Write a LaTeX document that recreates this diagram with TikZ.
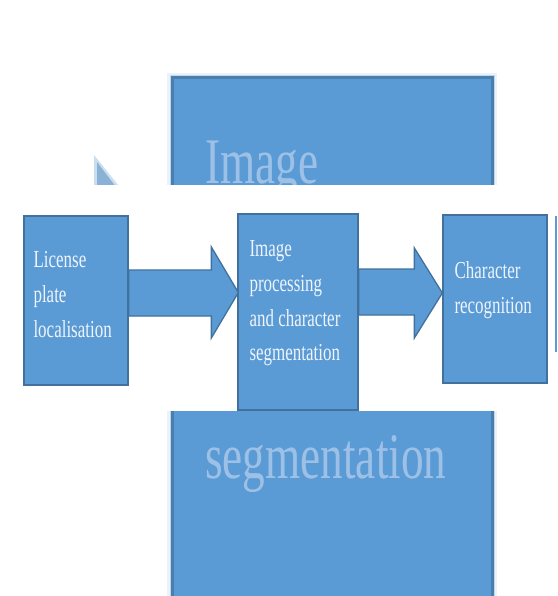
\documentclass[tikz,border=0pt]{standalone}
\usepackage{fontspec}
\setmainfont{Liberation Serif}
\usetikzlibrary{calc}
\definecolor{boxblue}{HTML}{5B9BD5}
\definecolor{boxedge}{HTML}{41719C}
\definecolor{txtlight}{HTML}{EEF4FB}
\definecolor{bgtxt}{HTML}{A9C8EA}
\tikzset{
  blockbox/.style={draw=boxedge, fill=boxblue, line width=1.3pt, inner sep=0pt},
  blockarrow/.style={draw=boxedge, fill=boxblue, line width=1.3pt, line join=miter},
  lbl/.style={text=txtlight, align=left, inner sep=0pt, anchor=north west,
    font=\fontsize{19.5}{27.8}\selectfont, xscale=0.87, yscale=1.25, transform shape},
  bglbl/.style={text=bgtxt, inner sep=0pt, anchor=base west, opacity=0.85,
    font=\fontsize{52}{60}\selectfont, xscale=0.87, yscale=1.25, transform shape},
}
\begin{document}
\begin{tikzpicture}[x=1pt, y=-1pt]
\useasboundingbox (0,0) rectangle (557,596);
\fill[white] (0,0) rectangle (557,596);
% blurred enlarged background
\fill[boxblue!80!boxedge, opacity=0.3] (94,155) -- (166,245) -- (94,400) -- cycle;
\fill[boxblue!70!boxedge, opacity=0.55] (97,162) -- (160,245) -- (97,400) -- cycle;
\draw[boxblue, line width=10pt, opacity=0.12] (172,78) rectangle (492,598);
\draw[boxblue, line width=5pt, opacity=0.3] (172,78) rectangle (492,598);
\node[draw=boxedge!70!boxblue, fill=boxblue, line width=3pt, minimum width=320pt, minimum height=520pt, inner sep=0pt] (bg) at (332,338) {};
\node[bglbl] (bgimage) at (205,183) {Image};
\node[bglbl] (bgseg) at (205,478) {segmentation};
% white band
\fill[white] (0,185) rectangle (557,411);
\fill[boxblue] (554.5,216) rectangle (557,352);
% sharp diagram
\node[blockbox, minimum width=104pt, minimum height=169pt] (b1) at (76,300.5) {};
\node[blockbox, minimum width=120pt, minimum height=196pt] (b2) at (298,312) {};
\node[blockbox, minimum width=104pt, minimum height=168pt] (b3) at (495,299) {};
\path let \p1=(b1.east), \p2=(b2.west) in
  [blockarrow] (\x1,270) -- (\x2-26pt,270) -- (\x2-26pt,247) -- (\x2+1pt,292.5)
  -- (\x2-26pt,338) -- (\x2-26pt,316) -- (\x1,316) -- cycle;
\path let \p1=(b2.east), \p2=(b3.west) in
  [blockarrow] (\x1,269) -- (\x2-28pt,269) -- (\x2-28pt,248) -- (\x2,293)
  -- (\x2-28pt,338) -- (\x2-28pt,315) -- (\x1,315) -- cycle;
\node[lbl] (t1) at ($(b1.north west)+(10,36)$) {License\\plate\\localisation};
\node[lbl] (t2) at ($(b2.north west)+(12,27)$) {Image\\processing\\and character\\segmentation};
\node[lbl] (t3) at ($(b3.north west)+(12,47)$) {Character\\recognition};
\end{tikzpicture}
\end{document}
